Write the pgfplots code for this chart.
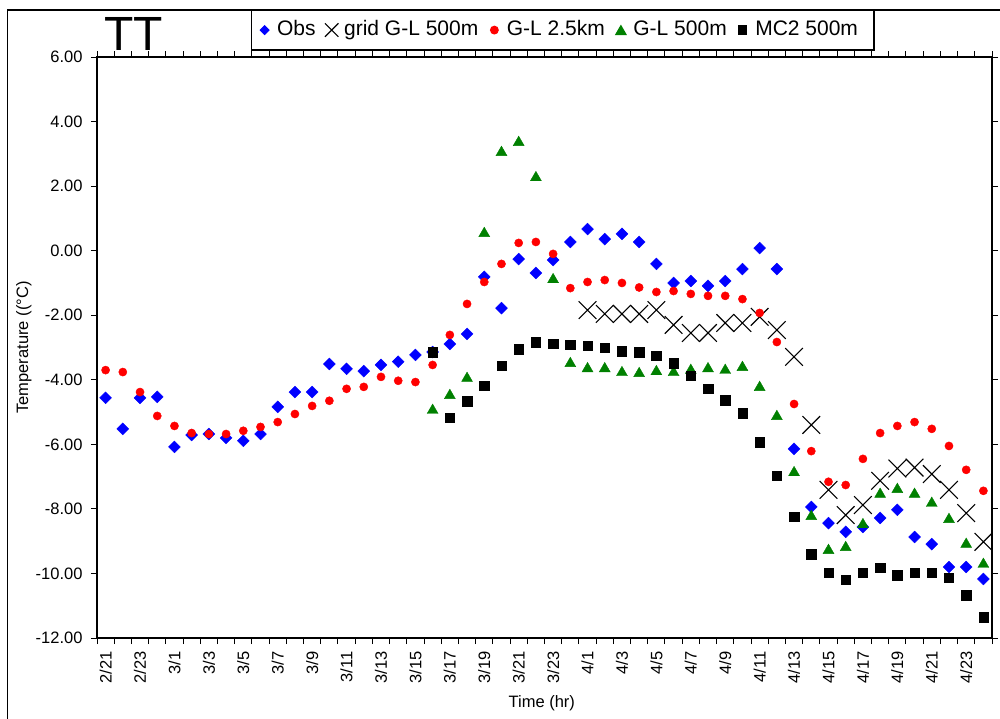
\documentclass[border=0pt]{standalone}
\usepackage{fontspec}
\setmainfont{Liberation Sans}
\usepackage{pgfplots}
\pgfplotsset{compat=1.18}
\definecolor{obsblue}{RGB}{0,0,255}
\definecolor{glred}{RGB}{255,0,0}
\definecolor{glgreen}{RGB}{0,128,0}
\begin{document}
\begin{tikzpicture}
\path[use as bounding box] (0pt,0pt) rectangle (1000pt,-718pt);
\draw[line width=1.3pt] (7.5pt,-720pt) -- (7.5pt,-10pt) -- (1002pt,-10pt);
\begin{axis}[
  at={(97pt,-638pt)}, anchor=south west,
  scale only axis, width=895pt, height=581pt,
  xmin=-0.5, xmax=51.5, ymin=-12, ymax=6,
  axis line style={line width=1.2pt},
  every tick/.style={black, line width=1pt},
  tick align=outside,
  major tick length=6pt, minor tick length=6pt,
  xtick={0,2,...,50},
  xticklabels={2/21,2/23,3/1,3/3,3/5,3/7,3/9,3/11,3/13,3/15,3/17,3/19,3/21,3/23,4/1,4/3,4/5,4/7,4/9,4/11,4/13,4/15,4/17,4/19,4/21,4/23},
  minor xtick={-0.5,0.5,...,51.5},
  major x tick style={draw=none},
  ytick={-12,-10,...,6},
  yticklabel style={/pgf/number format/.cd, fixed, fixed zerofill, precision=2, assume math mode=true},
  ticklabel style={font=\fontsize{16.5}{17}\selectfont},
  xticklabel style={rotate=90, anchor=east},
  xticklabel shift=4pt,
  yticklabel shift=5pt,
  xlabel={Time (hr)},
  ylabel={Temperature ((°C)},
  label style={font=\fontsize{16.5}{17}\selectfont},
  xlabel style={at={(axis description cs:0.497,-0.112)}, anchor=center},
  ylabel style={at={(axis description cs:-0.0816,0.5)}, anchor=center},
  legend columns=5,
  legend style={at={(axis description cs:0.1721,1.0818)}, anchor=north west,
    draw=black, line width=1.2pt, fill=white,
    font=\fontsize{21}{22}\selectfont, inner xsep=5pt, inner ysep=8.5pt,
    nodes={inner xsep=2pt, inner ysep=1.5pt, text height=15pt, text depth=5pt},
    /tikz/every odd column/.append style={column sep=2.5pt},
    /tikz/every even column/.append style={column sep=6pt}},
  legend image code/.code={\path[draw=none,fill=none] (-8pt,0pt) -- (8pt,0pt);\draw[mark repeat=2,mark phase=2,#1] plot coordinates {(-8pt,0pt) (0pt,0pt) (8pt,0pt)};},
  clip=false,
]
% Obs
\addplot[only marks, mark=square*, mark size=4.2pt, mark options={rotate=45, fill=obsblue, draw=obsblue},
  legend image post style={mark size=3pt}] coordinates {
(0,-4.56)(1,-5.52)(2,-4.56)(3,-4.53)(4,-6.08)(5,-5.71)(6,-5.68)(7,-5.80)(8,-5.89)(9,-5.68)
(10,-4.84)(11,-4.38)(12,-4.38)(13,-3.51)(14,-3.66)(15,-3.73)(16,-3.54)(17,-3.44)(18,-3.23)(19,-3.14)
(20,-2.89)(21,-2.58)(22,-0.81)(23,-1.78)(24,-0.26)(25,-0.69)(26,-0.29)(27,0.27)(28,0.67)(29,0.36)
(30,0.52)(31,0.27)(32,-0.41)(33,-1.00)(34,-0.94)(35,-1.09)(36,-0.94)(37,-0.57)(38,0.08)(39,-0.57)
(40,-6.14)(41,-7.94)(42,-8.44)(43,-8.71)(44,-8.56)(45,-8.28)(46,-8.03)(47,-8.87)(48,-9.09)(49,-9.80)
(50,-9.80)(51,-10.17)};
\addlegendentry{Obs}
% grid G-L 500m
\addplot[only marks, mark=x, mark size=12.5pt, mark options={draw=black, line width=1.1pt},
  legend image post style={mark size=9.5pt}] coordinates {
(28,-1.84)(29,-1.96)(30,-1.96)(31,-1.96)(32,-1.84)(33,-2.30)(34,-2.55)(35,-2.55)(36,-2.24)(37,-2.24)
(38,-2.05)(39,-2.46)(40,-3.29)(41,-5.40)(42,-7.41)(43,-8.19)(44,-7.88)(45,-7.13)(46,-6.75)(47,-6.72)
(48,-6.92)(49,-7.41)(50,-8.13)(51,-9.02)};
\addlegendentry{grid G-L 500m}
% G-L 2.5km
\addplot[only marks, mark=*, mark size=4.1pt, mark options={fill=glred, draw=glred},
  legend image post style={mark size=3.8pt}] coordinates {
(0,-3.70)(1,-3.76)(2,-4.38)(3,-5.12)(4,-5.43)(5,-5.65)(6,-5.68)(7,-5.68)(8,-5.58)(9,-5.46)
(10,-5.31)(11,-5.06)(12,-4.81)(13,-4.65)(14,-4.28)(15,-4.22)(16,-3.91)(17,-4.03)(18,-4.07)(19,-3.54)
(20,-2.61)(21,-1.65)(22,-0.97)(23,-0.41)(24,0.24)(25,0.27)(26,-0.10)(27,-1.16)(28,-0.97)(29,-0.91)
(30,-1.00)(31,-1.14)(32,-1.28)(33,-1.25)(34,-1.34)(35,-1.40)(36,-1.40)(37,-1.50)(38,-1.93)(39,-2.83)
(40,-4.75)(41,-6.21)(42,-7.16)(43,-7.26)(44,-6.45)(45,-5.65)(46,-5.43)(47,-5.31)(48,-5.52)(49,-6.05)
(50,-6.79)(51,-7.44)};
\addlegendentry{G-L 2.5km}
% G-L 500m
\addplot[only marks, mark=triangle*, mark size=6.3pt, mark options={fill=glgreen, draw=glgreen, yshift=-1.5pt},
  legend image post style={mark size=5.8pt}] coordinates {
(19,-4.90)(20,-4.44)(21,-3.91)(22,0.58)(23,3.09)(24,3.40)(25,2.31)(26,-0.85)(27,-3.45)(28,-3.61)
(29,-3.61)(30,-3.73)(31,-3.76)(32,-3.70)(33,-3.73)(34,-3.66)(35,-3.61)(36,-3.66)(37,-3.57)(38,-4.19)
(39,-5.09)(40,-6.83)(41,-8.19)(42,-9.24)(43,-9.15)(44,-8.44)(45,-7.50)(46,-7.35)(47,-7.50)(48,-7.78)
(49,-8.28)(50,-9.05)(51,-9.67)};
\addlegendentry{G-L 500m}
% MC2 500m
\addplot[only marks, mark=square*, mark size=4.7pt, mark options={fill=black, draw=black},
  legend image post style={mark size=4pt}] coordinates {
(19,-3.14)(20,-5.18)(21,-4.66)(22,-4.19)(23,-3.57)(24,-3.05)(25,-2.83)(26,-2.89)(27,-2.92)(28,-2.95)
(29,-3.01)(30,-3.11)(31,-3.14)(32,-3.26)(33,-3.48)(34,-3.88)(35,-4.28)(36,-4.63)(37,-5.03)(38,-5.93)
(39,-6.98)(40,-8.25)(41,-9.40)(42,-9.98)(43,-10.20)(44,-9.98)(45,-9.83)(46,-10.05)(47,-9.98)(48,-9.98)
(49,-10.14)(50,-10.67)(51,-11.35)};
\addlegendentry{MC2 500m\hspace*{9pt}}
\end{axis}
\node[anchor=base west, inner sep=0pt, font=\fontsize{48}{48}\selectfont] at (104pt,-50pt) {TT};
\end{tikzpicture}
\end{document}
